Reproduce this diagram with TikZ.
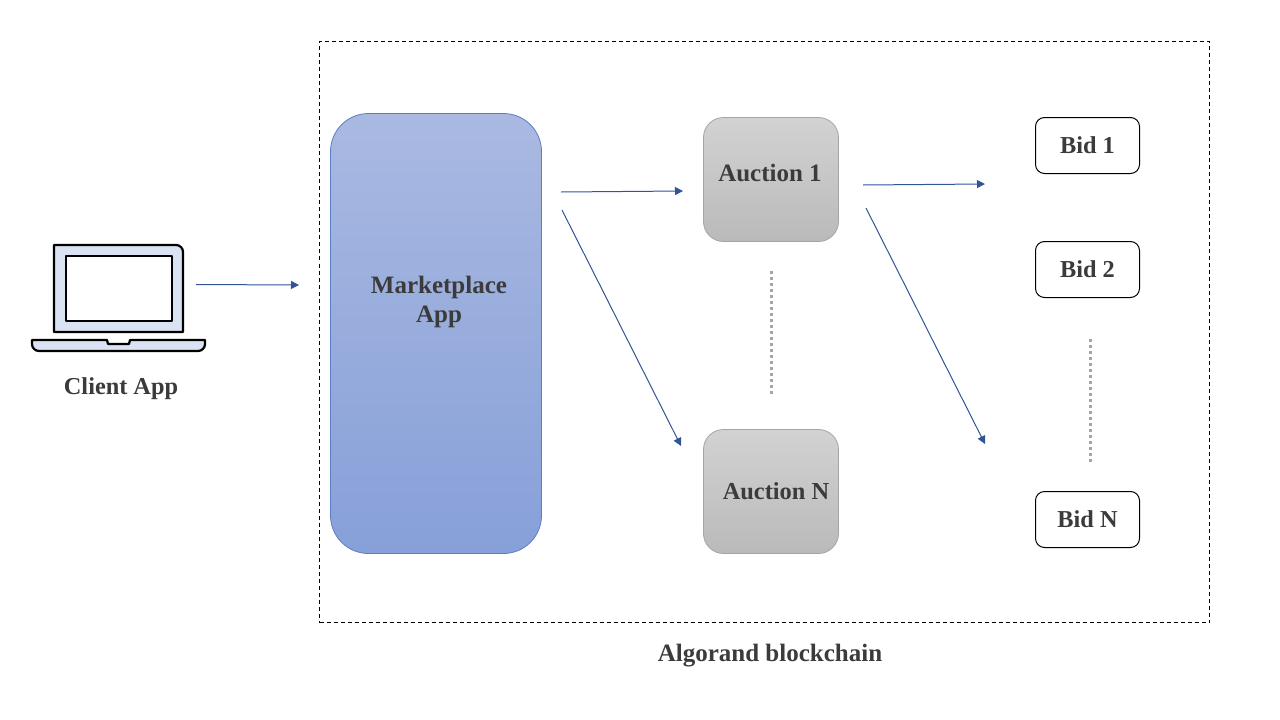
\documentclass[tikz,border=0pt]{standalone}
\usepackage{fontspec}
\setmainfont{Liberation Serif}
\usetikzlibrary{arrows.meta}
\definecolor{arrowblue}{HTML}{2F5597}
\definecolor{txt}{HTML}{3B3B3B}
\definecolor{lapfill}{HTML}{DAE3F3}
\definecolor{apptop}{HTML}{A9B9E1}
\definecolor{appbot}{HTML}{87A0D9}
\definecolor{appedge}{HTML}{5B7FC4}
\definecolor{auctop}{HTML}{D2D2D2}
\definecolor{aucbot}{HTML}{BABABA}
\definecolor{aucedge}{HTML}{A5A5A5}
\definecolor{dotgray}{HTML}{A6A6A6}
\tikzset{
  x=1pt,y=-1pt,
  lab/.style={font=\fontsize{25}{29}\selectfont\bfseries,text=txt,align=center,inner sep=0pt},
  smalllab/.style={font=\fontsize{24.3}{29}\selectfont\bfseries,text=txt,align=center},
  flow/.style={draw=arrowblue,line width=1pt,-{Triangle[length=8pt,width=8pt]}},
  dots/.style={draw=dotgray,line width=3pt,dash pattern=on 3pt off 3pt},
  appbox/.style={draw=appedge,line width=0.8pt,rounded corners=38pt,minimum width=211pt,minimum height=440pt,inner sep=0pt,top color=apptop,bottom color=appbot},
  aucbox/.style={draw=aucedge,line width=0.8pt,rounded corners=20pt,minimum width=135pt,minimum height=124pt,inner sep=0pt,top color=auctop,bottom color=aucbot},
  bidbox/.style={draw=black,line width=1pt,fill=white,rounded corners=9pt,minimum width=104pt,minimum height=56pt,inner sep=0pt,smalllab},
  lapline/.style={draw=black,line width=2.2pt,line join=round},
}
\begin{document}
\begin{tikzpicture}
\useasboundingbox (0,0) rectangle (1280,720);
% frame
\node[draw=black,line width=1pt,dash pattern=on 4pt off 3pt,minimum width=890pt,minimum height=581pt,inner sep=0pt] (chain) at (764.5,332) {};
\node[lab] (chainlab) at (770,656) {Algorand blockchain};
% laptop
\draw[lapline,fill=lapfill] (54,332) -- (54,245) [rounded corners=7pt] -- (183,245) [sharp corners] -- (183,332) -- cycle;
\node[lapline,fill=white,minimum width=106pt,minimum height=65pt,inner sep=0pt] (screen) at (119,288.5) {};
\draw[lapline,fill=lapfill] (107,340) -- (108,344) -- (129,344) -- (130,340) -- (205,340) -- (205,345) [rounded corners=7pt] -- (205,351) -- (32,351) [sharp corners] -- (32,340) -- cycle;
\node[smalllab,inner sep=0pt] (client) at (121,389) {Client App};
% boxes
\node[appbox] (market) at (436,333.5) {};
\node[lab] (marketlab) at (439,302) {Marketplace\\App};
\node[aucbox] (a1) at (771,179.5) {};
\node[aucbox] (an) at (771,491.5) {};
\node[lab] (a1lab) at (770,173) {Auction 1};
\node[lab,font=\fontsize{24.4}{29}\selectfont\bfseries] (anlab) at (776,491) {Auction N};
\node[bidbox] (b1) at (1087.5,145.5) {Bid 1};
\node[bidbox] (b2) at (1087.5,269.5) {Bid 2};
\node[bidbox] (bn) at (1087.5,519.5) {Bid N};
% connector ends
\coordinate (c0) at (196,284.5);
\coordinate (c1) at (299,285);
\coordinate (m1) at (561,192);
\coordinate (m2) at (683,191);
\coordinate (m3) at (562,210);
\coordinate (m4) at (681,446);
\coordinate (u1) at (863,185);
\coordinate (u2) at (985,184);
\coordinate (u3) at (866,208);
\coordinate (u4) at (985,444);
\coordinate (d1) at (771,271);
\coordinate (d2) at (771,395);
\coordinate (d3) at (1090.5,339);
\coordinate (d4) at (1090.5,463);
\draw[flow] (c0) -- (c1);
\draw[flow] (m1) -- (m2);
\draw[flow] (m3) -- (m4);
\draw[flow] (u1) -- (u2);
\draw[flow] (u3) -- (u4);
\draw[dots] (d1) -- (d2);
\draw[dots] (d3) -- (d4);
\end{tikzpicture}
\end{document}
